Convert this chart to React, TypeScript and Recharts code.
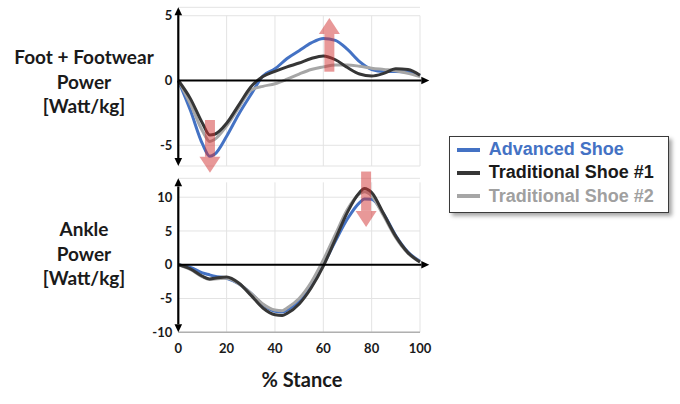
import React from 'react';
import { LineChart, Line, XAxis, YAxis, CartesianGrid, ReferenceLine, ReferenceDot } from 'recharts';

// ---------- data ----------
const topStance = [0, 5, 10, 13, 15, 20, 25, 30, 35, 40, 45, 50, 55, 60, 65, 70, 75, 80, 85, 90, 95, 100];
const topAdvanced = [0, -2.3, -4.9, -5.85, -5.7, -4.3, -2.6, -1.1, 0.35, 0.9, 1.7, 2.3, 2.9, 3.25, 3.1, 2.4, 1.45, 0.85, 0.7, 0.7, 0.65, 0.35];
const topTrad1 = [0, -1.4, -3.3, -4.2, -4.15, -3.3, -1.9, -0.5, 0.3, 0.7, 1.05, 1.35, 1.7, 1.9, 1.6, 1.0, 0.5, 0.35, 0.55, 0.9, 0.85, 0.4];
const topTrad2 = [0, -1.8, -3.9, -4.7, -4.55, -3.5, -2.1, -0.75, -0.45, -0.25, 0.1, 0.5, 0.85, 1.05, 1.2, 1.2, 1.1, 0.95, 0.85, 0.75, 0.55, 0.3];

const bottomStance = [0, 5, 10, 13, 15, 20, 25, 30, 35, 40, 43, 45, 50, 55, 60, 65, 70, 75, 77, 80, 85, 90, 95, 100];
const bottomAdvanced = [0, -0.4, -1.2, -1.5, -1.7, -2.0, -2.8, -4.2, -5.9, -6.9, -7.0, -6.7, -5.4, -3.1, 0.0, 3.5, 6.8, 9.2, 9.75, 9.7, 7.5, 4.3, 1.9, 0.5];
const bottomTrad1 = [0, -0.6, -1.7, -2.1, -2.0, -1.8, -2.7, -4.5, -6.4, -7.4, -7.5, -7.2, -5.8, -3.4, -0.2, 3.8, 7.8, 10.7, 11.3, 10.7, 7.5, 4.2, 1.8, 0.4];
const bottomTrad2 = [0, -0.7, -1.8, -2.2, -2.1, -2.0, -2.8, -4.2, -5.8, -6.7, -6.8, -6.4, -5.0, -2.6, 0.7, 4.5, 8.2, 10.5, 10.8, 10.2, 7.2, 4.0, 1.7, 0.4];

const seriesNames = ['Advanced Shoe', 'Traditional Shoe #1', 'Traditional Shoe #2'];
const xTicks = [0, 20, 40, 60, 80, 100];
const topYTicks = [-5, 0, 5];
const bottomYTicks = [-10, -5, 0, 5, 10];

// annotation arrows (data units)
const topArrows = [
  { x: 13.1, from: -3.05, base: -5.88, dir: 'down' },
  { x: 62.5, from: 0.68, base: 3.59, dir: 'up' },
];
const bottomArrows = [{ x: 77.7, from: 13.8, base: 7.97, dir: 'down' }];

// ---------- styles ----------
const lineColors = ['#4472C4', '#363636', '#a6a6a6'];
const legendTextColors = ['#4472C4', '#1a1a1a', '#a0a0a0'];
const PINK = 'rgb(210,50,50)';
const PINK_OPACITY = 0.5;
const GRID = '#e3e3e3';
const FONT = 'Lato, "Open Sans", sans-serif';

const topData = topStance.map((x, i) => ({ x, adv: topAdvanced[i], t1: topTrad1[i], t2: topTrad2[i] }));
const bottomData = bottomStance.map((x, i) => ({ x, adv: bottomAdvanced[i], t1: bottomTrad1[i], t2: bottomTrad2[i] }));

type Dir = 'up' | 'down' | 'right';
const tri = (dir: Dir, len: number, half: number, fill: string, opacity: number, fromTip: boolean) => (props: any) => {
  const { cx, cy } = props;
  let pts = '';
  if (fromTip) {
    if (dir === 'up') pts = `${cx},${cy} ${cx - half},${cy + len} ${cx + half},${cy + len}`;
    else if (dir === 'down') pts = `${cx},${cy} ${cx - half},${cy - len} ${cx + half},${cy - len}`;
    else pts = `${cx},${cy} ${cx - len},${cy - half} ${cx - len},${cy + half}`;
  } else {
    if (dir === 'up') pts = `${cx - half},${cy} ${cx + half},${cy} ${cx},${cy - len}`;
    else pts = `${cx - half},${cy} ${cx + half},${cy} ${cx},${cy + len}`;
  }
  return <polygon points={pts} fill={fill} fillOpacity={opacity} stroke="none" />;
};

const tickStyle = { fill: '#1a1a1a', fontSize: 13, fontWeight: 700, fontFamily: FONT };

function renderSeries() {
  return [
    <Line key="adv" type="monotone" dataKey="adv" name={seriesNames[0]} stroke={lineColors[0]} strokeWidth={3} dot={false} isAnimationActive={false} />,
    <Line key="t2" type="monotone" dataKey="t2" name={seriesNames[2]} stroke={lineColors[2]} strokeWidth={3} dot={false} isAnimationActive={false} />,
    <Line key="t1" type="monotone" dataKey="t1" name={seriesNames[1]} stroke={lineColors[1]} strokeWidth={3} dot={false} isAnimationActive={false} />,
  ];
}

function renderAxes(yMin: number, yMax: number, yLineMin: number, yLineMax: number, xTip: number, xLineEnd: number) {
  return [
    <ReferenceLine key="xaxis" segment={[{ x: 0, y: 0 }, { x: xLineEnd, y: 0 }]} stroke="#000" strokeWidth={2.2} ifOverflow="visible" />,
    <ReferenceDot key="xarrow" x={xTip} y={0} r={1} ifOverflow="visible" shape={tri('right', 8, 3.8, '#000', 1, true)} />,
    <ReferenceLine key="yaxis" segment={[{ x: 0, y: yLineMin }, { x: 0, y: yLineMax }]} stroke="#000" strokeWidth={2.2} ifOverflow="visible" />,
    <ReferenceDot key="yarrowT" x={0} y={yMax} r={1} ifOverflow="visible" shape={tri('up', 8, 3.8, '#000', 1, true)} />,
    <ReferenceDot key="yarrowB" x={0} y={yMin} r={1} ifOverflow="visible" shape={tri('down', 8, 3.8, '#000', 1, true)} />,
  ];
}

function renderArrows(arrows: { x: number; from: number; base: number; dir: string }[], prefix: string) {
  const out: any[] = [];
  arrows.forEach((a, i) => {
    out.push(
      <ReferenceLine key={`${prefix}s${i}`} segment={[{ x: a.x, y: a.from }, { x: a.x, y: a.base }]} stroke={PINK} strokeOpacity={PINK_OPACITY} strokeWidth={10} ifOverflow="visible" />
    );
    out.push(
      <ReferenceDot key={`${prefix}h${i}`} x={a.x} y={a.base} r={1} ifOverflow="visible" shape={tri(a.dir as Dir, 16, 10.5, PINK, PINK_OPACITY, false)} />
    );
  });
  return out;
}

function vGrid(yFrom: number, yTo: number, prefix: string) {
  return xTicks.filter((t) => t > 0).map((t) => (
    <ReferenceLine key={`${prefix}${t}`} segment={[{ x: t, y: yFrom }, { x: t, y: yTo }]} stroke={GRID} strokeWidth={1} ifOverflow="visible" />
  ));
}

const titleStyle: React.CSSProperties = {
  position: 'absolute',
  left: 0,
  width: 168,
  textAlign: 'center',
  fontFamily: FONT,
  fontWeight: 700,
  fontSize: 19,
  lineHeight: '24.5px',
  color: '#1a1a1a',
};

export default function App() {
  const topMin = -6.6;
  const topMax = 5.65;
  const botMin = -10;
  const botMax = 12.8;
  return (
    <div style={{ position: 'absolute', left: 0, top: 0, width: 680, height: 404, background: '#fff', overflow: 'hidden' }}>
      <div style={{ ...titleStyle, top: 45 }}>
        Foot + Footwear<br />Power<br />[Watt/kg]
      </div>
      <div style={{ ...titleStyle, top: 217 }}>
        Ankle<br />Power<br />[Watt/kg]
      </div>
      <div
        style={{
          position: 'absolute',
          left: 200,
          top: 367,
          width: 204,
          textAlign: 'center',
          fontFamily: FONT,
          fontWeight: 700,
          fontSize: 20,
          lineHeight: '24px',
          color: '#1a1a1a',
        }}
      >
        % Stance
      </div>

      {/* Top chart */}
      <div style={{ position: 'absolute', left: 140, top: 0 }}>
        <LineChart width={300} height={180} data={topData} margin={{ top: 7.3, right: 20, bottom: 14, left: 0 }}>
          <CartesianGrid vertical={false} stroke={GRID} />
          <XAxis type="number" dataKey="x" domain={[0, 100]} ticks={xTicks} hide />
          <YAxis
            type="number"
            domain={[topMin, topMax]}
            ticks={topYTicks}
            width={38.3}
            axisLine={false}
            tickLine={false}
            tickSize={0}
            tickMargin={6}
            tick={tickStyle}
          />
          {vGrid(5, topMin, 'tg')}
          {renderSeries()}
          {renderAxes(topMin, topMax, -6.0, 5.05, 103.85, 100.6)}
          {renderArrows(topArrows, 'ta')}
        </LineChart>
      </div>

      {/* Bottom chart */}
      <div style={{ position: 'absolute', left: 140, top: 170 }}>
        <LineChart width={300} height={200} data={bottomData} margin={{ top: 8.3, right: 20, bottom: 7.7, left: 0 }}>
          <CartesianGrid vertical={false} stroke={GRID} />
          <XAxis
            type="number"
            dataKey="x"
            domain={[0, 100]}
            ticks={xTicks}
            height={30}
            axisLine={{ stroke: '#b0b0b0', strokeWidth: 1.5 }}
            tickLine={false}
            tickSize={0}
            tickMargin={11}
            tick={tickStyle}
          />
          <YAxis
            type="number"
            domain={[botMin, botMax]}
            ticks={bottomYTicks}
            width={38.3}
            axisLine={false}
            tickLine={false}
            tickSize={0}
            tickMargin={6}
            tick={tickStyle}
          />
          {vGrid(12.2, botMin, 'bg')}
          {renderSeries()}
          {renderAxes(botMin, botMax, -8.8, 11.6, 103.85, 100.6)}
          {renderArrows(bottomArrows, 'ba')}
        </LineChart>
      </div>

      {/* Legend */}
      <div
        style={{
          position: 'absolute',
          left: 449,
          top: 136,
          width: 220,
          height: 77,
          boxSizing: 'border-box',
          border: '1.5px solid #3a3a3a',
          background: '#fff',
          boxShadow: '3px 3px 4px rgba(0,0,0,0.35)',
        }}
      >
        {seriesNames.map((n, i) => (
          <div
            key={n}
            style={{ position: 'absolute', left: 6.8, top: 0.5 + i * 23.3, height: 24, display: 'flex', alignItems: 'center' }}
          >
            <div style={{ width: 23, height: 4, background: lineColors[i], marginRight: 9 }} />
            <span
              style={{
                fontFamily: '"Liberation Sans", Arial, sans-serif',
                fontWeight: 700,
                fontSize: 18,
                color: legendTextColors[i],
                whiteSpace: 'nowrap',
              }}
            >
              {n}
            </span>
          </div>
        ))}
      </div>
    </div>
  );
}
